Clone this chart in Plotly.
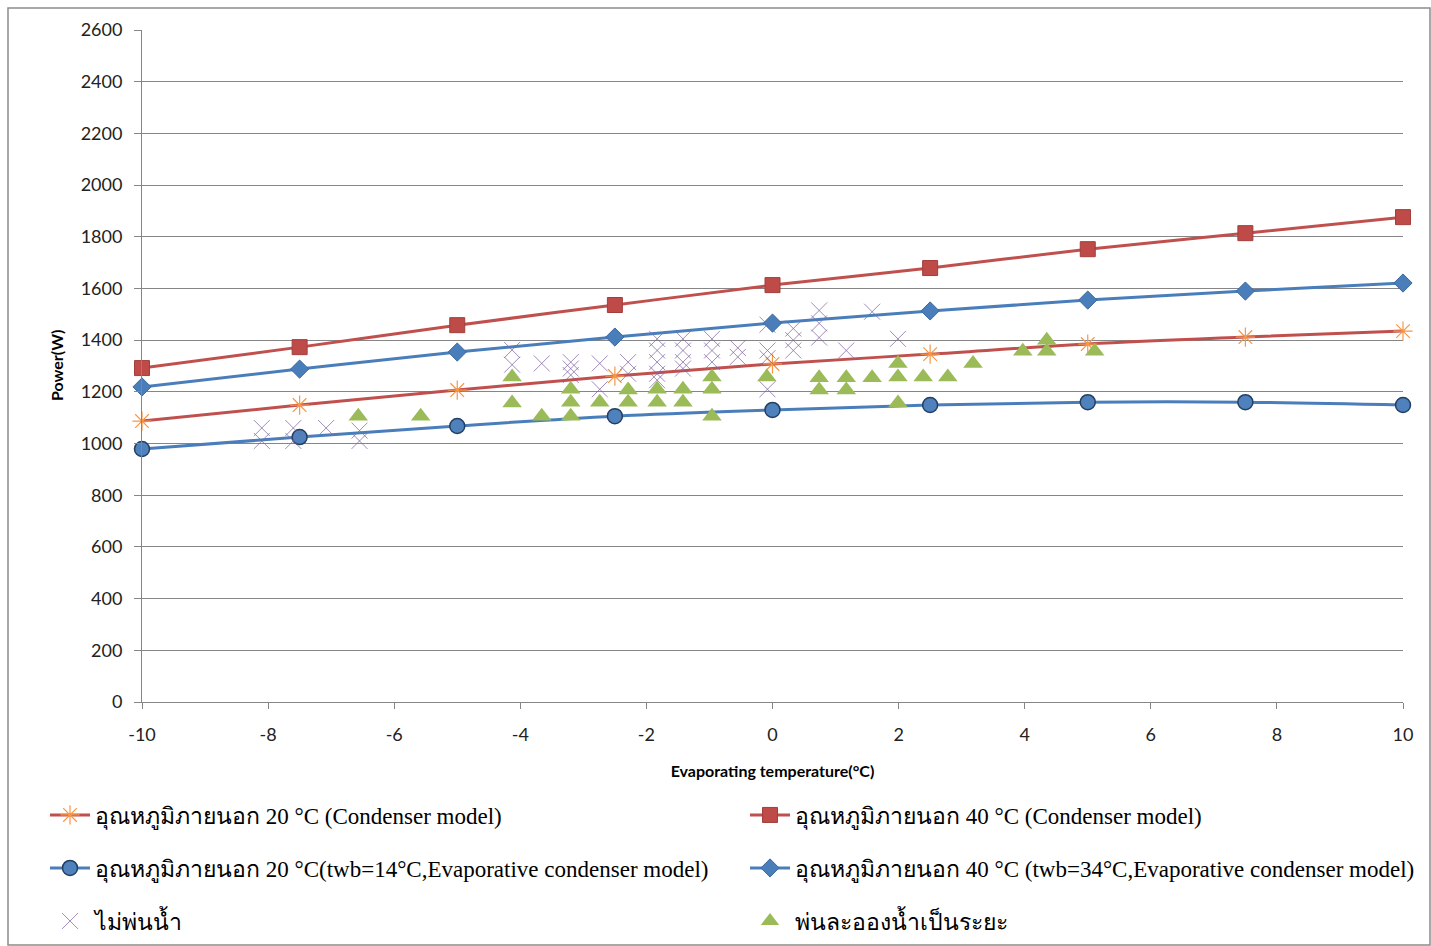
import plotly.graph_objects as go

# ---- data ----
x_model = [-10, -7.5, -5, -2.5, 0, 2.5, 5, 7.5, 10]
cond20 = [1087, 1149, 1207, 1261, 1308, 1346, 1385, 1412, 1435]
cond40 = [1292, 1373, 1458, 1536, 1613, 1679, 1752, 1814, 1876]
evap20 = [979, 1025, 1068, 1106, 1130, 1149, 1160, 1160, 1149]
evap40 = [1219, 1288, 1354, 1412, 1466, 1513, 1555, 1590, 1621]

nospray_x = [-8.1, -8.1, -7.6, -7.6, -7.08, -6.55, -6.55,
             -4.13, -4.13, -3.66, -3.2, -3.2, -3.2, -2.74, -2.74, -2.29, -2.29,
             -1.83, -1.83, -1.83, -1.83, -1.83, -1.42, -1.42, -1.42, -1.42,
             -0.96, -0.96, -0.96, -0.55, -0.55, -0.08, -0.08, -0.08, -0.08,
             0.33, 0.33, 0.33, 0.74, 0.74, 0.74, 1.17, 1.58, 1.99]
nospray_y = [1060, 1010, 1060, 1010, 1060, 1050, 1010,
             1362, 1305, 1310, 1315, 1290, 1265, 1310, 1210, 1315, 1270,
             1405, 1360, 1315, 1270, 1245, 1405, 1360, 1315, 1290,
             1405, 1360, 1315, 1370, 1335, 1460, 1360, 1330, 1210,
             1445, 1400, 1360, 1515, 1465, 1410, 1360, 1510, 1405]

spray_x = [-6.57, -5.58, -4.13, -4.13, -3.66, -3.2, -3.2, -3.2, -2.74, -2.29, -2.29,
           -1.83, -1.83, -1.42, -1.42, -0.96, -0.96, -0.96, -0.09, 0.74, 0.74,
           1.17, 1.17, 1.58, 1.99, 1.99, 1.99, 2.39, 2.78, 3.18, 3.97, 4.35, 4.35, 5.11]
spray_y = [1106, 1106, 1257, 1157, 1106, 1210, 1160, 1106, 1160, 1207, 1160,
           1210, 1160, 1210, 1160, 1257, 1210, 1106, 1257, 1255, 1207,
           1255, 1207, 1255, 1310, 1257, 1157, 1257, 1257, 1310, 1357, 1400, 1357, 1357]

x_ticks = [-10, -8, -6, -4, -2, 0, 2, 4, 6, 8, 10]
y_ticks = list(range(0, 2601, 200))

names = [
    "อุณหภูมิภายนอก 20 °C (Condenser model)",
    "อุณหภูมิภายนอก 40 °C (Condenser model)",
    "อุณหภูมิภายนอก 20 °C(twb=14°C,Evaporative condenser model)",
    "อุณหภูมิภายนอก 40 °C (twb=34°C,Evaporative condenser model)",
    "ไม่พ่นน้ำ",
    "พ่นละอองน้ำเป็นระยะ",
]

RED = "#C0504D"
BLUE = "#4A7EBB"
ORANGE = "#F79646"
PURPLE = "#8064A2"
GREEN = "#9BBB59"

fig = go.Figure()
fig.add_trace(go.Scatter(x=x_model, y=cond20, name=names[0], mode="lines+markers",
                         line=dict(color=RED, width=3, shape="spline"),
                         marker=dict(symbol="asterisk-open", size=16, color=ORANGE,
                                     line=dict(color=ORANGE, width=1.2)),
                         cliponaxis=False, legend="legend"))
fig.add_trace(go.Scatter(x=x_model, y=cond40, name=names[1], mode="lines+markers",
                         line=dict(color=RED, width=3, shape="spline"),
                         marker=dict(symbol="square", size=15, color="#BE4B48",
                                     line=dict(color="#A33E3B", width=1)),
                         cliponaxis=False, legend="legend2"))
fig.add_trace(go.Scatter(x=x_model, y=evap20, name=names[2], mode="lines+markers",
                         line=dict(color=BLUE, width=3, shape="spline"),
                         marker=dict(symbol="circle", size=15, color="#4F81BD",
                                     line=dict(color="#243F60", width=1.5)),
                         cliponaxis=False, legend="legend3"))
fig.add_trace(go.Scatter(x=x_model, y=evap40, name=names[3], mode="lines+markers",
                         line=dict(color=BLUE, width=3, shape="spline"),
                         marker=dict(symbol="diamond", size=14, color="#4A7EBB",
                                     line=dict(color="#3B6AA0", width=1)),
                         cliponaxis=False, legend="legend4"))
fig.add_trace(go.Scatter(x=nospray_x, y=nospray_y, name=names[4], mode="markers",
                         marker=dict(symbol="x-thin-open", size=16, color=PURPLE,
                                     line=dict(color=PURPLE, width=1), opacity=0.75),
                         cliponaxis=False, legend="legend5"))
fig.add_trace(go.Scatter(x=spray_x, y=spray_y, name=names[5], mode="markers",
                         marker=dict(symbol="triangle-up", size=17, color=GREEN,
                                     line=dict(color=GREEN, width=0)),
                         cliponaxis=False, legend="legend6"))

L, R, T, B = 142, 28, 30, 244
W, H = 1431, 946
pw, ph = W - L - R, H - T - B

def px2paper_x(px):
    return (px - L) / pw

def px2paper_y(py):
    return (H - B - py) / ph

def cont_x(px):
    return px / W

def cont_y(py):
    return (H - py) / H

legend_font = dict(family="Liberation Serif, Times New Roman, serif", size=23, color="#000000")

def leg(px, py):
    return dict(orientation="v", x=cont_x(px), y=cont_y(py), xref="container", yref="container",
                xanchor="left", yanchor="middle", font=legend_font,
                bgcolor="rgba(0,0,0,0)", itemwidth=40)

fig.update_layout(
    width=W, height=H,
    margin=dict(l=L, r=R, t=T, b=B, autoexpand=False),
    paper_bgcolor="white", plot_bgcolor="white",
    showlegend=True,
    legend=leg(45, 815), legend2=leg(745, 815),
    legend3=leg(45, 868), legend4=leg(745, 868),
    legend5=leg(45, 921), legend6=leg(745, 921),
    xaxis=dict(range=[-10, 10], tickvals=x_ticks, ticktext=[str(v) for v in x_ticks],
               showgrid=False, zeroline=False, showline=True, linecolor="#868686", linewidth=1,
               ticks="outside", ticklen=6, tickcolor="#868686", ticklabelstandoff=10,
               tickfont=dict(family="Lato, Open Sans, sans-serif", size=18, color="#222"),
               title=dict(text="<b>Evaporating temperature(°C)</b>", standoff=22,
                          font=dict(family="Lato, Open Sans, sans-serif", size=16, color="#000"))),
    yaxis=dict(range=[0, 2600], tickvals=y_ticks, ticktext=[str(v) for v in y_ticks],
               showgrid=True, gridcolor="#868686", gridwidth=1, zeroline=False,
               showline=True, linecolor="#868686", linewidth=1,
               ticks="outside", ticklen=7, tickcolor="#868686", ticklabelstandoff=8,
               tickfont=dict(family="Lato, Open Sans, sans-serif", size=18, color="#222")),
    annotations=[dict(text="<b>Power(W)</b>", xref="paper", yref="paper",
                      x=px2paper_x(56), y=0.5, xanchor="center", yanchor="middle",
                      textangle=-90, showarrow=False,
                      font=dict(family="Lato, Open Sans, sans-serif", size=16, color="#000"))],
    shapes=[dict(type="rect", xref="paper", yref="paper",
                 x0=px2paper_x(8), x1=px2paper_x(1430), y0=px2paper_y(945), y1=px2paper_y(8),
                 line=dict(color="#8C8C8C", width=1.5), fillcolor="rgba(0,0,0,0)", layer="below")],
)

fig.write_html("out.html")
